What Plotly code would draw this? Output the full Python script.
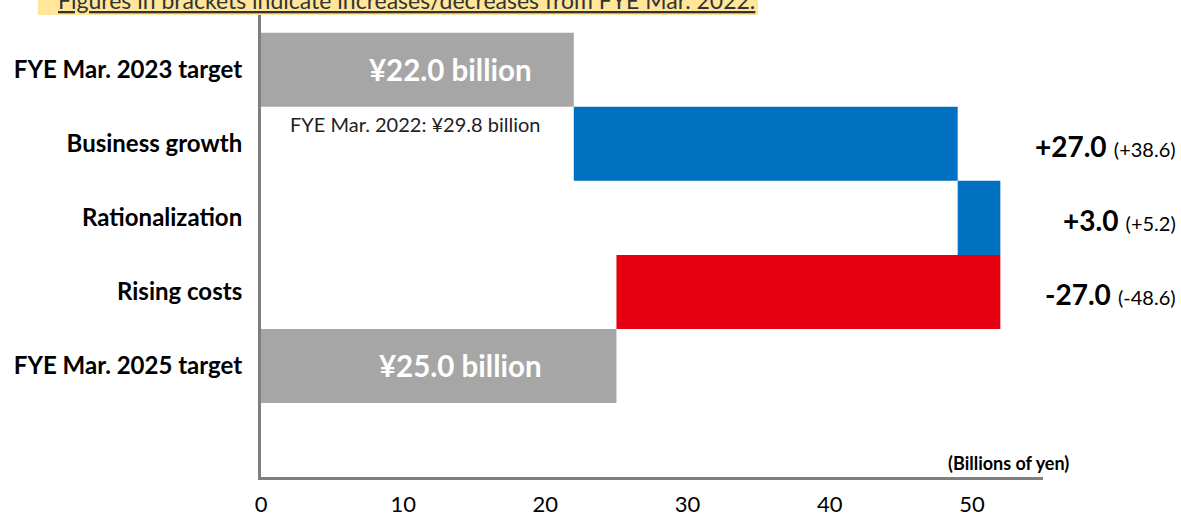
import plotly.graph_objects as go

categories = ["FYE Mar. 2023 target", "Business growth", "Rationalization", "Rising costs", "FYE Mar. 2025 target"]
values = [22.0, 27.0, 3.0, -27.0, 25.0]
measures = ["absolute", "relative", "relative", "relative", "total"]
change_labels = ["+27.0", "+3.0", "-27.0"]
change_vs_2022 = ["(+38.6)", "(+5.2)", "(-48.6)"]
total_labels = ["¥22.0 billion", "¥25.0 billion"]
x_ticks = [0, 10, 20, 30, 40, 50]

W, H = 1181, 517
L, R, T, B = 261, 138, 15, 40
FONT = "Lato"
pw = W - L - R
ph = H - T - B


def px_x(px):
    return (px - L) / pw


def px_y(py):
    return (H - B - py) / ph


ypos = list(range(len(categories)))

fig = go.Figure(go.Waterfall(
    orientation="h",
    y=ypos,
    x=values,
    measure=measures,
    width=[1.0] * len(values),
    increasing=dict(marker=dict(color="#0070C0")),
    decreasing=dict(marker=dict(color="#E60012")),
    totals=dict(marker=dict(color="#A6A6A6")),
    connector=dict(visible=False),
    hoverinfo="skip",
))

ann = []
ann.append(dict(x=13.3, y=0, text="<b>" + total_labels[0] + "</b>", showarrow=False,
                font=dict(family=FONT, size=29.5, color="white")))
ann.append(dict(x=14.0, y=4, text="<b>" + total_labels[1] + "</b>", showarrow=False,
                font=dict(family=FONT, size=29.5, color="white")))
ann.append(dict(x=1.9, y=0.73, text="FYE Mar. 2022: ¥29.8 billion", showarrow=False,
                xanchor="left", font=dict(family=FONT, size=20, color="#222222")))
for i, (a, b) in enumerate(zip(change_labels, change_vs_2022)):
    ann.append(dict(xref="paper", x=px_x(1178), y=i + 1.03, xanchor="right", showarrow=False,
                    text="<b>" + a + "</b> <span style='font-size:20px'>" + b + "</span>",
                    font=dict(family=FONT, size=28, color="black")))
ann.append(dict(xref="paper", x=px_x(1071), yref="paper", y=px_y(463), xanchor="right",
                yanchor="middle", showarrow=False,
                text="<b>(Billions of yen)</b>", font=dict(family=FONT, size=18, color="black")))
ann.append(dict(xref="paper", yref="paper", x=px_x(406), y=px_y(0),
                xanchor="center", yanchor="middle", showarrow=False,
                text="<u>Figures in brackets indicate increases/decreases from FYE Mar. 2022.</u>",
                font=dict(family=FONT, size=23, color="#333333")))

fig.add_shape(type="rect", xref="paper", yref="paper",
              x0=px_x(38), x1=px_x(758), y0=px_y(15), y1=px_y(-10),
              fillcolor="#FFE699", line=dict(width=0), layer="below")

fig.update_layout(
    width=W, height=H,
    margin=dict(l=L, r=R, t=T, b=B, pad=0, autoexpand=False),
    plot_bgcolor="white", paper_bgcolor="white",
    showlegend=False,
    annotations=ann,
    xaxis=dict(range=[0, 55], tickvals=x_ticks, showgrid=False, zeroline=False,
               showline=True, linecolor="#7F7F7F", linewidth=3,
               ticks="", ticklabelstandoff=6,
               tickfont=dict(family=FONT, size=22, color="black")),
    yaxis=dict(range=[5.5, -0.74], tickvals=ypos, ticktext=["<b>" + c + "</b>" for c in categories],
               showgrid=False, zeroline=False, showline=True, linecolor="#7F7F7F", linewidth=3,
               ticks="", ticklabelstandoff=11,
               tickfont=dict(family=FONT, size=24, color="black")),
)

fig.write_html("out.html", config={"displayModeBar": False},
               post_script="document.body.style.margin='0px';document.body.style.overflow='hidden';")
